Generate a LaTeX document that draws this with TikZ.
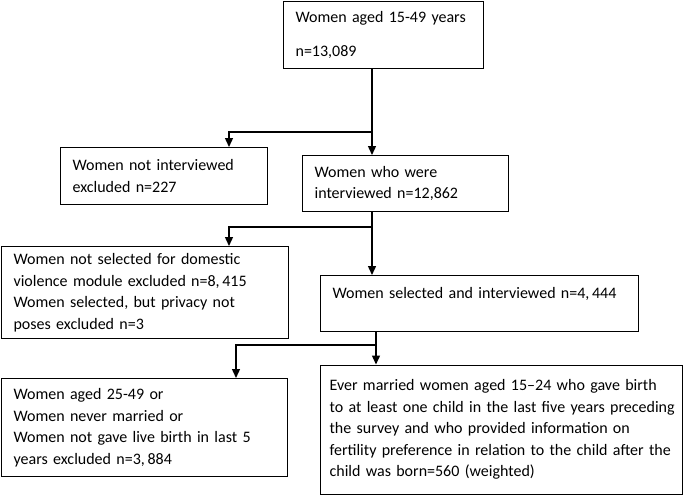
\documentclass[tikz,border=0pt]{standalone}
\usepackage{fontspec}
\setmainfont{Carlito}
\usetikzlibrary{arrows.meta}
\begin{document}
\begin{tikzpicture}[x=1pt,y=-1pt,
  box/.style={draw,line width=1.2pt,anchor=north west,inner xsep=12pt,inner ysep=0pt,align=left,font=\fontsize{16}{21.5}\selectfont},
  conn/.style={line width=1.4pt},
  arr/.style={conn,-{Triangle[length=9pt,width=8pt]}}]
\useasboundingbox (0,0) rectangle (685,495);
\fill[white] (0,0) rectangle (685,495);
\node[box,text width=176,minimum height=67] (t) at (283,1) {Women aged 15-49 years\\[13pt]n=13,089};
\node[box,text width=183,minimum height=57] (ni) at (60,147) {Women not interviewed\\excluded n=227};
\node[box,text width=182,minimum height=56] (iv) at (302,155) {Women who were\\interviewed n=12,862};
\node[box,text width=263,minimum height=92] (ns) at (1,246) {Women not selected for domestic\\violence module excluded n=8,\,415\\Women selected, but privacy not\\poses excluded n=3};
\node[box,text width=294,minimum height=56] (si) at (320,275) {Women selected and interviewed n=4,\,444\\\mbox{}};
\node[box,text width=262,minimum height=98] (ag) at (1,378) {Women aged 25-49 or\\Women never married or\\Women not gave live birth in last 5\\years excluded n=3,\,884};
\node[box,inner xsep=9pt,text width=344,minimum height=129] (em) at (320,364.5) {Ever married women aged 15--24 who gave birth\\\mbox{to at least one child in the last five years preceding}\\the survey and who provided information on\\\mbox{fertility preference in relation to the child after the}\\child was born=560 (weighted)};
\coordinate (j1) at (372,132);
\coordinate (l1) at (229,132);
\coordinate (j2) at (372,227);
\coordinate (l2) at (229,227);
\coordinate (j3) at (376,345);
\coordinate (l3) at (236,345);
\draw[conn] (t.south -| j1) -- (j1);
\draw[arr] (j1) -- (j1 |- iv.north);
\draw[arr] (j1) -- (l1) -- (l1 |- ni.north);
\draw[conn] (iv.south -| j2) -- (j2);
\draw[arr] (j2) -- (j2 |- si.north);
\draw[arr] (j2) -- (l2) -- (l2 |- ns.north);
\draw[conn] (si.south -| j3) -- (j3);
\draw[arr] (j3) -- (j3 |- em.north);
\draw[arr] (j3) -- (l3) -- (l3 |- ag.north);
\end{tikzpicture}
\end{document}
